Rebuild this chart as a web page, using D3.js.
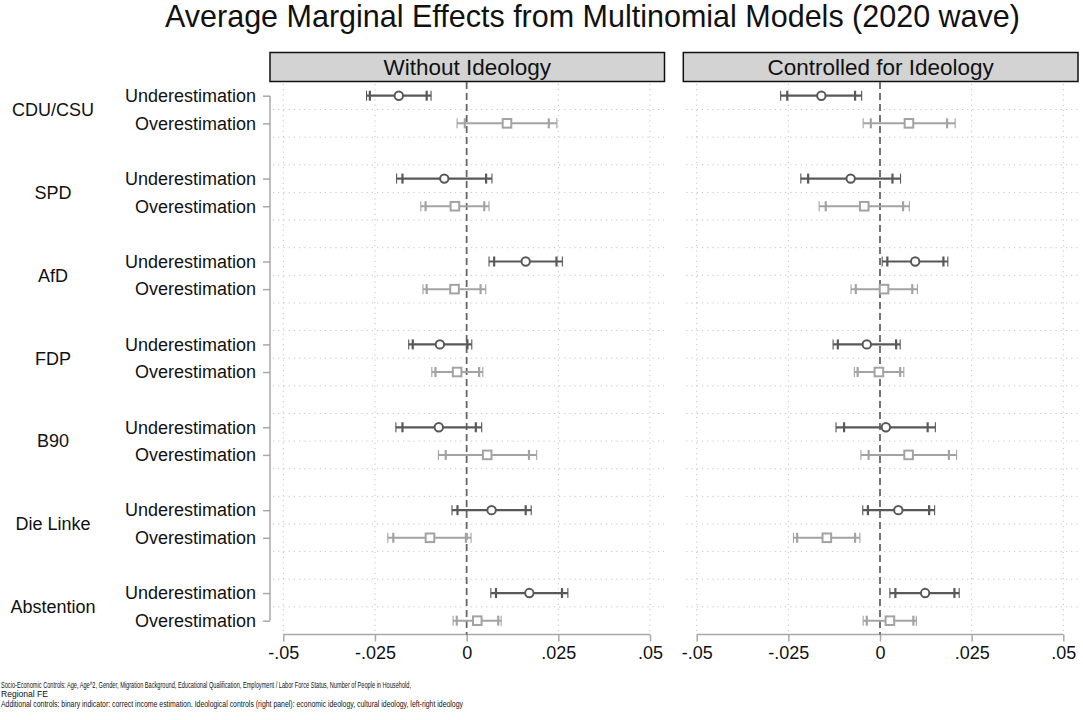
<!DOCTYPE html>
<html>
<head>
<meta charset="utf-8">
<script src="https://cdnjs.cloudflare.com/ajax/libs/d3/7.8.5/d3.min.js"></script>
<style>
  html, body { margin: 0; padding: 0; background: #fff; }
  svg { display: block; font-family: "Liberation Sans", Arial, Helvetica, sans-serif; }
</style>
</head>
<body>
<svg id="chart" width="1083" height="720"></svg>
<script>
// ---------------- DATA ----------------
const title = "Average Marginal Effects from Multinomial Models (2020 wave)";
const panels = ["Without Ideology", "Controlled for Ideology"];
const parties = ["CDU/CSU", "SPD", "AfD", "FDP", "B90", "Die Linke", "Abstention"];
const outcomes = ["Underestimation", "Overestimation"];
const xTicks = [-0.05, -0.025, 0, 0.025, 0.05];
const xTickLabels = ["-.05", "-.025", "0", ".025", ".05"];

// Panel 1: Without Ideology (order: CDU/CSU, SPD, AfD, FDP, B90, Die Linke, Abstention)
const p1UnderEst   = [-0.0185, -0.0061,  0.0161, -0.0073, -0.0076,  0.0068,  0.0171];
const p1UnderLo95  = [-0.0273, -0.0191,  0.0061, -0.0158, -0.0193, -0.0040,  0.0066];
const p1UnderHi95  = [-0.0097,  0.0069,  0.0261,  0.0014,  0.0041,  0.0176,  0.0276];
const p1UnderLo90  = [-0.0264, -0.0175,  0.0075, -0.0147, -0.0175, -0.0025,  0.0080];
const p1UnderHi90  = [-0.0109,  0.0053,  0.0245,  0.0002,  0.0025,  0.0161,  0.0260];
const p1OverEst    = [ 0.0110, -0.0032, -0.0033, -0.0026,  0.0056, -0.0100,  0.0029];
const p1OverLo95   = [-0.0026, -0.0125, -0.0119, -0.0095, -0.0077, -0.0215, -0.0037];
const p1OverHi95   = [ 0.0246,  0.0061,  0.0052,  0.0044,  0.0191,  0.0012,  0.0094];
const p1OverLo90   = [-0.0005, -0.0112, -0.0109, -0.0085, -0.0057, -0.0200, -0.0027];
const p1OverHi90   = [ 0.0224,  0.0048,  0.0038,  0.0034,  0.0170, -0.0002,  0.0086];

// Panel 2: Controlled for Ideology
const p2UnderEst   = [-0.0160, -0.0080,  0.0096, -0.0036,  0.0016,  0.0050,  0.0123];
const p2UnderLo95  = [-0.0271, -0.0216,  0.0006, -0.0128, -0.0120, -0.0047,  0.0027];
const p2UnderHi95  = [-0.0050,  0.0056,  0.0185,  0.0055,  0.0151,  0.0149,  0.0216];
const p2UnderLo90  = [-0.0253, -0.0196,  0.0020, -0.0115, -0.0098, -0.0033,  0.0042];
const p2UnderHi90  = [-0.0068,  0.0034,  0.0173,  0.0044,  0.0130,  0.0134,  0.0203];
const p2OverEst    = [ 0.0079, -0.0043,  0.0011, -0.0003,  0.0078, -0.0145,  0.0027];
const p2OverLo95   = [-0.0046, -0.0166, -0.0079, -0.0070, -0.0052, -0.0236, -0.0046];
const p2OverHi95   = [ 0.0205,  0.0080,  0.0102,  0.0065,  0.0209, -0.0055,  0.0099];
const p2OverLo90   = [-0.0025, -0.0148, -0.0066, -0.0061, -0.0031, -0.0226, -0.0036];
const p2OverHi90   = [ 0.0183,  0.0063,  0.0088,  0.0055,  0.0188, -0.0068,  0.0091];

const footnotes = [
  "Socio-Economic Controls: Age, Age^2, Gender, Migration Background, Educational Qualification, Employment / Labor Force Status, Number of People in Household,",
  "Regional FE",
  "Additional controls: binary indicator: correct income estimation. Ideological controls (right panel): economic ideology, cultural ideology, left-right ideology"
];

// ---------------- BUILD ROWS ----------------
function rowsFor(under, over) {
  const rows = [];
  parties.forEach((p, i) => {
    rows.push({party: p, outcome: outcomes[0], u: 3 * i,     est: under[0][i], lo95: under[1][i], hi95: under[2][i], lo90: under[3][i], hi90: under[4][i]});
    rows.push({party: p, outcome: outcomes[1], u: 3 * i + 1, est: over[0][i],  lo95: over[1][i],  hi95: over[2][i],  lo90: over[3][i],  hi90: over[4][i]});
  });
  return rows;
}
const panelRows = [
  rowsFor([p1UnderEst, p1UnderLo95, p1UnderHi95, p1UnderLo90, p1UnderHi90],
          [p1OverEst,  p1OverLo95,  p1OverHi95,  p1OverLo90,  p1OverHi90]),
  rowsFor([p2UnderEst, p2UnderLo95, p2UnderHi95, p2UnderLo90, p2UnderHi90],
          [p2OverEst,  p2OverLo95,  p2OverHi95,  p2OverLo90,  p2OverHi90])
];

// ---------------- LAYOUT ----------------
const svg = d3.select("#chart");
const nUnits = parties.length * 3 - 1;
const y = d3.scaleLinear().domain([-0.5, nUnits - 0.5]).range([81.9, 634.5]);
const panelBoxes = [{x0: 270, x1: 664.5, r0: 283.3, r1: 650}, {x0: 683.3, x1: 1078, r0: 696.7, r1: 1063.3}];
const styles = {
  "Underestimation": {color: "#585858", width: 2.2, shape: "circle"},
  "Overestimation":  {color: "#a3a3a3", width: 2.0, shape: "square"}
};
const axisColor = "#a8a8a8";
const gridColor = "#c4c4c4";

// Title
svg.append("text")
  .attr("x", 592.5).attr("y", 27)
  .attr("text-anchor", "middle")
  .attr("font-size", 30.5).attr("fill", "#111")
  .text(title);

// Left axis (row labels)
const rowTicks = d3.range(parties.length).flatMap(i => [3 * i, 3 * i + 1]);
const leftAxis = d3.axisLeft(y).tickValues(rowTicks).tickSize(7).tickPadding(7)
  .tickFormat(u => outcomes[u % 3]);
const gL = svg.append("g").attr("transform", "translate(270,0)").call(leftAxis);
gL.select(".domain").attr("d", `M0,${y(0)}V${y(nUnits - 1)}`).attr("stroke", axisColor).attr("stroke-width", 1.5);
gL.selectAll(".tick line").attr("stroke", axisColor).attr("stroke-width", 1.5);
gL.selectAll(".tick text").attr("font-size", 18).attr("fill", "#111")
  .attr("font-family", "'Liberation Sans', Arial, sans-serif");

// Group labels
svg.append("g").selectAll("text").data(parties).join("text")
  .attr("x", 53).attr("y", (d, i) => y(3 * i + 0.5))
  .attr("dy", "0.35em").attr("text-anchor", "middle")
  .attr("font-size", 18).attr("fill", "#111")
  .text(d => d);

// Panels
panelBoxes.forEach((pb, pi) => {
  const x = d3.scaleLinear().domain([xTicks[0], xTicks[xTicks.length - 1]]).range([pb.r0, pb.r1]);
  const g = svg.append("g");

  // header strip
  g.append("rect").attr("x", pb.x0).attr("y", 52.5).attr("width", pb.x1 - pb.x0).attr("height", 29)
    .attr("fill", "#d3d3d3").attr("stroke", "#111").attr("stroke-width", 1.5);
  g.append("text").attr("x", (pb.x0 + pb.x1) / 2).attr("y", 75).attr("text-anchor", "middle")
    .attr("font-size", 22.5).attr("fill", "#111").text(panels[pi]);

  // horizontal grid
  const hGrid = d3.range(0.5, nUnits - 0.5, 1);
  g.append("g").selectAll("line").data(hGrid).join("line")
    .attr("x1", pb.x0 + 3).attr("x2", pb.x1).attr("y1", d => y(d)).attr("y2", d => y(d))
    .attr("stroke", gridColor).attr("stroke-width", 1).attr("stroke-dasharray", "1.2,4");
  // vertical grid
  g.append("g").selectAll("line").data(xTicks.filter(t => t !== 0)).join("line")
    .attr("x1", d => x(d)).attr("x2", d => x(d)).attr("y1", y(-0.5) + 2).attr("y2", y(nUnits - 0.5))
    .attr("stroke", gridColor).attr("stroke-width", 1).attr("stroke-dasharray", "1.2,4");

  // bottom axis
  const bAxis = d3.axisBottom(x).tickValues(xTicks).tickSize(7).tickPadding(5)
    .tickFormat((d, i) => xTickLabels[i]);
  const gb = g.append("g").attr("transform", `translate(0,${y(nUnits - 0.5)})`).call(bAxis);
  gb.select(".domain").attr("d", `M${x(xTicks[0])},0H${x(xTicks[xTicks.length - 1])}`)
    .attr("stroke", axisColor).attr("stroke-width", 1.5);
  gb.selectAll(".tick line").attr("stroke", axisColor).attr("stroke-width", 1.5);
  gb.selectAll(".tick text").attr("font-size", 18).attr("fill", "#111")
    .attr("font-family", "'Liberation Sans', Arial, sans-serif");

  // zero reference line
  g.append("line").attr("x1", x(0)).attr("x2", x(0))
    .attr("y1", y(-0.5)).attr("y2", y(nUnits - 0.5))
    .attr("stroke", "#666").attr("stroke-width", 1.8).attr("stroke-dasharray", "7,4");

  // estimates
  const rows = panelRows[pi];
  const capH = 5;
  const eg = g.append("g").selectAll("g").data(rows).join("g")
    .attr("transform", d => `translate(0,${y(d.u)})`);
  eg.append("line").attr("x1", d => x(d.lo95)).attr("x2", d => x(d.hi95))
    .attr("stroke", d => styles[d.outcome].color).attr("stroke-width", d => styles[d.outcome].width);
  ["lo95", "hi95"].forEach(k => {
    eg.append("line").attr("x1", d => x(d[k])).attr("x2", d => x(d[k])).attr("y1", -capH).attr("y2", capH)
      .attr("stroke", d => styles[d.outcome].color).attr("stroke-width", 1.1);
  });
  ["lo90", "hi90"].forEach(k => {
    eg.append("line").attr("x1", d => x(d[k])).attr("x2", d => x(d[k])).attr("y1", -capH).attr("y2", capH)
      .attr("stroke", d => styles[d.outcome].color).attr("stroke-width", 2.2);
  });
  eg.filter(d => styles[d.outcome].shape === "circle").append("circle")
    .attr("cx", d => x(d.est)).attr("r", 4.2)
    .attr("fill", "#fff").attr("stroke", d => styles[d.outcome].color).attr("stroke-width", 2);
  eg.filter(d => styles[d.outcome].shape === "square").append("rect")
    .attr("x", d => x(d.est) - 4.3).attr("y", -4.3).attr("width", 8.6).attr("height", 8.6)
    .attr("fill", "#fff").attr("stroke", d => styles[d.outcome].color).attr("stroke-width", 2);
});

// Footnotes
svg.append("g").selectAll("text").data(footnotes).join("text")
  .attr("x", 1).attr("y", (d, i) => [687.5, 697, 706.5][i])
  .attr("font-size", 8.2).attr("fill", "#111")
  .attr("font-family", "'Liberation Sans Narrow', 'Arial Narrow', 'Liberation Sans', sans-serif")
  .attr("textLength", (d, i) => [410, 47, 462][i]).attr("lengthAdjust", "spacingAndGlyphs")
  .text(d => d);
</script>
</body>
</html>
